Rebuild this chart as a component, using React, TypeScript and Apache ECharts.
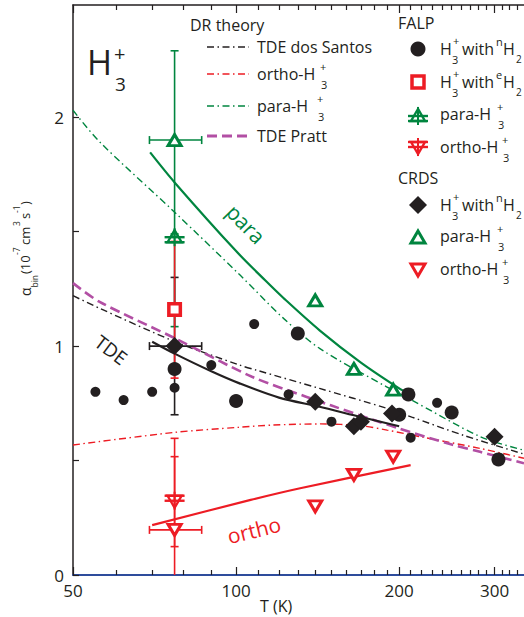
import React, { useEffect, useRef } from 'react';
import * as echarts from 'echarts';

// ---------- axes ----------
const T_MIN = 50;
const T_MAX = 340;
const T_MAJOR_TICKS = [50, 100, 200, 300];
const T_MINOR_TICKS = [60, 70, 80, 90, 110, 120, 130, 140, 150, 160, 170, 180, 190, 210, 220, 230, 240, 250, 260, 270, 280, 290, 310, 320, 330];
const A_MIN = 0;
const A_MAX = 2.49;
const A_TICKS = [0, 0.5, 1, 1.5, 2];
const A_LABELS = [0, 1, 2];

// ---------- DR theory curves ----------
const TDE_SANTOS_T = [50, 56, 77, 101.5, 109, 142.6, 190, 211, 263, 340];
const TDE_SANTOS_A = [1.22, 1.165, 1.02, 0.917, 0.895, 0.815, 0.728, 0.69, 0.61, 0.528];
const ORTHO_TH_T = [50, 77, 101, 117, 143, 170, 190, 220, 282, 340];
const ORTHO_TH_A = [0.568, 0.623, 0.645, 0.655, 0.66, 0.652, 0.633, 0.603, 0.553, 0.51];
const PARA_TH_T = [50, 56, 77, 101.7, 122.5, 142.6, 189.6, 211, 282.5, 340];
const PARA_TH_A = [2.03, 1.892, 1.585, 1.31, 1.12, 0.99, 0.822, 0.764, 0.604, 0.545];
const TDE_PRATT_T = [50, 56, 77, 107, 134.6, 150, 200, 250, 282, 340];
const TDE_PRATT_A = [1.275, 1.193, 1.035, 0.866, 0.779, 0.74, 0.64, 0.57, 0.538, 0.488];

// ---------- fits ----------
const TDE_FIT_T = [70, 77, 90, 101.5, 120, 142.6, 170, 200];
const TDE_FIT_A = [1.019, 0.967, 0.89, 0.837, 0.775, 0.735, 0.69, 0.65];
const PARA_FIT_T = [69.4, 77, 100, 113.4, 122.3, 142.6, 170, 201, 212];
const PARA_FIT_A = [1.846, 1.715, 1.415, 1.285, 1.21, 1.069, 0.928, 0.812, 0.781];
const ORTHO_FIT_T = [70, 106.4, 131.3, 210];
const ORTHO_FIT_A = [0.218, 0.328, 0.379, 0.48];

// ---------- FALP data ----------
const FALP_N_SMALL_T = [55, 62, 70, 77, 90, 108, 125, 150, 210, 235];
const FALP_N_SMALL_A = [0.80, 0.764, 0.80, 0.818, 0.917, 1.096, 0.789, 0.67, 0.60, 0.752];
const FALP_N_LARGE_T = [77, 100, 130, 200, 208, 250, 305];
const FALP_N_LARGE_A = [0.90, 0.76, 1.055, 0.70, 0.789, 0.71, 0.505];
const FALP_E_T = [77];
const FALP_E_A = [1.16];
const FALP_PARA_T = [77];
const FALP_PARA_A = [1.48];
const FALP_ORTHO_T = [77];
const FALP_ORTHO_A = [0.32];

// ---------- CRDS data ----------
const CRDS_N_T = [77, 140, 165, 170, 194, 300];
const CRDS_N_A = [1.0, 0.757, 0.65, 0.67, 0.706, 0.604];
const CRDS_PARA_T = [77, 140, 165, 195];
const CRDS_PARA_A = [1.90, 1.20, 0.90, 0.81];
const CRDS_ORTHO_T = [77, 140, 165, 195];
const CRDS_ORTHO_A = [0.197, 0.30, 0.437, 0.517];

// ---------- error bars: vertical [T, low, high], horizontal [alpha, Tlow, Thigh] ----------
const CRDS_N_VERR = [[77, 0.70, 1.30]];
const CRDS_N_HERR = [[1.0, 69.2, 86.4]];
const CRDS_PARA_VERR = [[77, 1.49, 2.29]];
const CRDS_PARA_HERR = [[1.90, 69.2, 86.4]];
const CRDS_ORTHO_VERR = [[77, -0.2, 0.597]];
const CRDS_ORTHO_HERR = [[0.197, 69.2, 86.4]];
const FALP_E_VERR = [[77, 0.86, 1.457]];
const FALP_PARA_VERR = [[77, 1.085, 1.48]];
const FALP_ORTHO_VERR = [[77, 0.124, 0.517]];

// ---------- styling ----------
const FONT = 'Open Sans';
const INK = '#231f20';
const BLUE = '#2e4c9c';
const GREEN = '#00853f';
const RED = '#ed1c24';
const MAGENTA = '#b24fa4';
const DASHDOT = [7, 3.5, 1.5, 3.5];
const DASHED = [10, 5];

const zip = (xs: number[], ys: number[]) => xs.map((x, i) => [x, ys[i]]);

const lineSeries = (xs: number[], ys: number[], color: string, width: number, type: any) => ({
  type: 'line',
  data: zip(xs, ys),
  showSymbol: false,
  symbol: 'none',
  smooth: 0.3,
  silent: true,
  xAxisIndex: 0,
  yAxisIndex: 0,
  lineStyle: { color, width, type },
  z: 2,
});

const vErr = (data: number[][], color: string, z: number) => ({
  type: 'custom',
  data,
  xAxisIndex: 0,
  yAxisIndex: 0,
  encode: { x: 0, y: [1, 2] },
  clip: true,
  silent: true,
  z,
  renderItem: (_p: any, api: any) => {
    const x = api.value(0);
    const a = api.coord([x, api.value(1)]);
    const b = api.coord([x, api.value(2)]);
    const st = { stroke: color, lineWidth: 1.6 };
    return {
      type: 'group',
      children: [
        { type: 'line', shape: { x1: a[0], y1: a[1], x2: b[0], y2: b[1] }, style: st },
        { type: 'line', shape: { x1: a[0] - 4, y1: a[1], x2: a[0] + 4, y2: a[1] }, style: st },
        { type: 'line', shape: { x1: b[0] - 4, y1: b[1], x2: b[0] + 4, y2: b[1] }, style: st },
      ],
    };
  },
});

const hErr = (data: number[][], color: string, z: number) => ({
  type: 'custom',
  data,
  xAxisIndex: 0,
  yAxisIndex: 0,
  encode: { y: 0, x: [1, 2] },
  clip: true,
  silent: true,
  z,
  renderItem: (_p: any, api: any) => {
    const y = api.value(0);
    const a = api.coord([api.value(1), y]);
    const b = api.coord([api.value(2), y]);
    const st = { stroke: color, lineWidth: 1.6 };
    return {
      type: 'group',
      children: [
        { type: 'line', shape: { x1: a[0], y1: a[1], x2: b[0], y2: b[1] }, style: st },
        { type: 'line', shape: { x1: a[0], y1: a[1] - 4, x2: a[0], y2: a[1] + 4 }, style: st },
        { type: 'line', shape: { x1: b[0], y1: b[1] - 4, x2: b[0], y2: b[1] + 4 }, style: st },
      ],
    };
  },
});

// FALP triangle marker with cross bars
const falpMarker = (cx: number, cy: number, color: string, down: boolean) => {
  const s = down ? -1 : 1;
  const w = 14, h = 12, bw = 10;
  const apexY = cy - (s * h) / 2;
  const baseY = cy + (s * h) / 2;
  const st = { stroke: color, lineWidth: 2.4, fill: null };
  return [
    { type: 'line', shape: { x1: cx, y1: apexY - s * 2, x2: cx, y2: baseY + s * 4 }, style: { stroke: color, lineWidth: 2 } },
    { type: 'polygon', shape: { points: [[cx, apexY], [cx - w / 2, baseY], [cx + w / 2, baseY]] }, style: { ...st, fill: 'rgba(255,255,255,0)' } },
    { type: 'line', shape: { x1: cx - bw, y1: baseY, x2: cx + bw, y2: baseY }, style: st },
    { type: 'line', shape: { x1: cx - bw, y1: cy + s * 1, x2: cx + bw, y2: cy + s * 1 }, style: st },
  ];
};

const falpSeries = (xs: number[], ys: number[], color: string, down: boolean) => ({
  type: 'custom',
  data: zip(xs, ys),
  xAxisIndex: 0,
  yAxisIndex: 0,
  encode: { x: 0, y: 1 },
  silent: true,
  z: 8,
  renderItem: (_p: any, api: any) => {
    const c = api.coord([api.value(0), api.value(1)]);
    return { type: 'group', children: falpMarker(c[0], c[1], color, down) };
  },
});

const scatter = (xs: number[], ys: number[], symbol: string, size: any, itemStyle: any, z: number, rotate = 0) => ({
  type: 'scatter',
  data: zip(xs, ys),
  symbol,
  symbolSize: size,
  symbolRotate: rotate,
  itemStyle: { opacity: 1, ...itemStyle },
  silent: true,
  xAxisIndex: 0,
  yAxisIndex: 0,
  z,
});

// ---------- graphic helpers ----------
const txt = (text: string, x: number, y: number, size: number, color = INK, extra: any = {}, align = 'left') => ({
  type: 'text',
  x,
  y,
  silent: true,
  z: 50,
  style: {
    text,
    fill: color,
    fontSize: size,
    fontFamily: FONT,
    align,
    verticalAlign: 'middle',
    textAlign: align,
    textVerticalAlign: 'middle',
  },
  ...extra,
});

const MAIN = 16;
const SCRIPT = 11;
// "H3+ with xH2" row
const h3With = (x: number, y: number, pre: string) => [
  txt('H', x, y, MAIN),
  txt('+', x + 13, y - 9, SCRIPT),
  txt('3', x + 12, y + 10, SCRIPT),
  txt('with', x + 22, y, MAIN),
  txt(pre, x + 56, y - 8, SCRIPT),
  txt('H', x + 63, y, MAIN),
  txt('2', x + 76, y + 10, 10),
];
const isoRow = (x: number, y: number, word: string, dx: number) => [
  txt(word, x, y, MAIN),
  txt('+', x + dx, y - 8, SCRIPT),
  txt('3', x + dx + 1, y + 10, SCRIPT),
];
const legLine = (y: number, color: string, dash: any, width: number) => ({
  type: 'line',
  silent: true,
  z: 50,
  shape: { x1: 207, y1: y, x2: 249, y2: y },
  style: { stroke: color, lineWidth: width, lineDash: dash },
});

const Y_MAIN = 13;
const Y_SCRIPT = 8.5;

const graphics: any[] = [
  // H3+ label
  txt('H', 87, 62, 34),
  txt('+', 114, 53, 20),
  txt('3', 115, 84, 19),
  // curve labels
  txt('para', 246, 224, 21, GREEN, { rotation: -0.8 }, 'center'),
  txt('TDE', 111, 350, 19, INK, { rotation: -0.65 }, 'center'),
  txt('ortho', 254, 530, 21, RED, { rotation: 0.24 }, 'center'),
  // axis titles
  txt('T (K)', 260, 606, 16),
  {
    type: 'group',
    x: 25,
    y: 296,
    rotation: Math.PI / 2,
    silent: true,
    children: [
      txt('α', 0, 0, Y_MAIN + 1),
      txt('bin', 8.5, 9, Y_SCRIPT),
      txt('(10', 22, 0, Y_MAIN),
      txt('-7', 41, -9, Y_SCRIPT),
      txt('cm', 51, 0, Y_MAIN),
      txt('3', 70, -9, Y_SCRIPT),
      txt('s', 77, 0, Y_MAIN),
      txt('-1', 83, -9, Y_SCRIPT),
      txt(')', 91, 0, Y_MAIN),
    ],
  },
  // DR theory legend
  txt('DR theory', 190, 25, MAIN),
  legLine(47, INK, DASHDOT, 1.5),
  txt('TDE dos Santos', 257, 47, MAIN),
  legLine(74, RED, DASHDOT, 1.5),
  ...isoRow(257, 74, 'ortho-H', 63),
  legLine(106, GREEN, DASHDOT, 1.5),
  ...isoRow(257, 106, 'para-H', 60),
  legLine(136, MAGENTA, DASHED, 3),
  txt('TDE Pratt', 257, 136, MAIN),
  // FALP legend
  txt('FALP', 398, 23, MAIN),
  { type: 'circle', silent: true, z: 50, shape: { cx: 418, cy: 49, r: 7.5 }, style: { fill: INK } },
  ...h3With(440, 49, 'n'),
  { type: 'rect', silent: true, z: 50, shape: { x: 412, y: 76, width: 12, height: 12 }, style: { fill: '#fff', stroke: RED, lineWidth: 3.5 } },
  ...h3With(440, 82, 'e'),
  { type: 'group', silent: true, z: 50, children: falpMarker(418, 115, GREEN, false) },
  ...isoRow(440, 114, 'para-H', 57),
  { type: 'group', silent: true, z: 50, children: falpMarker(418, 148, RED, true) },
  ...isoRow(440, 147, 'ortho-H', 62),
  // CRDS legend
  txt('CRDS', 398, 178, MAIN),
  { type: 'polygon', silent: true, z: 50, shape: { points: [[418, 196], [427, 205], [418, 214], [409, 205]] }, style: { fill: INK } },
  ...h3With(440, 205, 'n'),
  { type: 'polygon', silent: true, z: 50, shape: { points: [[418, 231], [425, 243], [411, 243]] }, style: { fill: '#fff', stroke: GREEN, lineWidth: 3 } },
  ...isoRow(440, 236, 'para-H', 57),
  { type: 'polygon', silent: true, z: 50, shape: { points: [[411, 264], [425, 264], [418, 276]] }, style: { fill: '#fff', stroke: RED, lineWidth: 3 } },
  ...isoRow(440, 269, 'ortho-H', 62),
];

const tickAxis = (position: string, ticks: number[], len: number, extra: any = {}) => ({
  type: 'log',
  logBase: 10,
  min: T_MIN,
  max: T_MAX,
  position,
  gridIndex: 0,
  splitLine: { show: false },
  axisLine: { show: false },
  axisTick: { show: true, inside: true, length: len, customValues: ticks, lineStyle: { color: INK, width: 1.2 } },
  axisLabel: { show: false },
  ...extra,
});

const option: any = {
  animation: false,
  backgroundColor: '#fff',
  textStyle: { fontFamily: FONT },
  grid: { left: 73, top: 5, width: 451, height: 570, containLabel: false },
  xAxis: [
    tickAxis('bottom', T_MAJOR_TICKS, 8, {
      axisLine: { show: true, lineStyle: { color: BLUE, width: 2.2 } },
      axisLabel: {
        show: true,
        customValues: T_MAJOR_TICKS,
        fontSize: 17,
        color: INK,
        fontFamily: FONT,
        margin: 7,
        formatter: (v: number) => String(Math.round(v)),
      },
    }),
    tickAxis('bottom', T_MINOR_TICKS, 5),
    tickAxis('top', T_MAJOR_TICKS, 8, { axisLine: { show: true, lineStyle: { color: INK, width: 1.5 } } }),
    tickAxis('top', T_MINOR_TICKS, 5),
  ],
  yAxis: [
    {
      type: 'value',
      min: A_MIN,
      max: A_MAX,
      position: 'left',
      splitLine: { show: false },
      axisLine: { show: true, lineStyle: { color: INK, width: 1.5 } },
      axisTick: { show: true, inside: true, length: 6, customValues: A_TICKS, lineStyle: { color: INK, width: 1.2 } },
      axisLabel: { show: true, customValues: A_LABELS, fontSize: 17, color: INK, fontFamily: FONT, margin: 9 },
    },
  ],
  series: [
    lineSeries(ORTHO_TH_T, ORTHO_TH_A, RED, 1.4, DASHDOT),
    lineSeries(PARA_TH_T, PARA_TH_A, GREEN, 1.4, DASHDOT),
    lineSeries(TDE_SANTOS_T, TDE_SANTOS_A, INK, 1.4, DASHDOT),
    lineSeries(TDE_PRATT_T, TDE_PRATT_A, MAGENTA, 2.6, DASHED),
    lineSeries(TDE_FIT_T, TDE_FIT_A, INK, 2.2, 'solid'),
    lineSeries(PARA_FIT_T, PARA_FIT_A, GREEN, 2.2, 'solid'),
    lineSeries(ORTHO_FIT_T, ORTHO_FIT_A, RED, 2.2, 'solid'),
    vErr(CRDS_PARA_VERR, GREEN, 3),
    vErr(FALP_PARA_VERR, GREEN, 3),
    hErr(CRDS_PARA_HERR, GREEN, 3),
    vErr(CRDS_N_VERR, INK, 4),
    hErr(CRDS_N_HERR, INK, 4),
    vErr(FALP_E_VERR, RED, 5),
    vErr(CRDS_ORTHO_VERR, RED, 5),
    vErr(FALP_ORTHO_VERR, RED, 5),
    hErr(CRDS_ORTHO_HERR, RED, 5),
    scatter(FALP_N_SMALL_T, FALP_N_SMALL_A, 'circle', 10, { color: INK }, 6),
    scatter(FALP_N_LARGE_T, FALP_N_LARGE_A, 'circle', 14, { color: INK }, 6),
    scatter(CRDS_N_T, CRDS_N_A, 'diamond', 18, { color: INK }, 7),
    scatter(FALP_E_T, FALP_E_A, 'rect', 11.5, { color: '#fff', borderColor: RED, borderWidth: 3.5 }, 8),
    scatter(CRDS_PARA_T, CRDS_PARA_A, 'triangle', [13, 11], { color: '#fff', borderColor: GREEN, borderWidth: 3 }, 8),
    scatter(CRDS_ORTHO_T, CRDS_ORTHO_A, 'triangle', [13, 11], { color: '#fff', borderColor: RED, borderWidth: 3 }, 8, 180),
    falpSeries(FALP_PARA_T, FALP_PARA_A, GREEN, false),
    falpSeries(FALP_ORTHO_T, FALP_ORTHO_A, RED, true),
  ],
  graphic: { elements: graphics },
};

export default function App() {
  const ref = useRef<HTMLDivElement>(null);
  useEffect(() => {
    const chart = echarts.init(ref.current as HTMLDivElement, null, { renderer: 'svg' });
    chart.setOption(option);
    return () => chart.dispose();
  }, []);
  return (
    <div
      ref={ref}
      style={{ position: 'absolute', left: 0, top: 0, width: 524, height: 617, background: '#fff' }}
    />
  );
}
